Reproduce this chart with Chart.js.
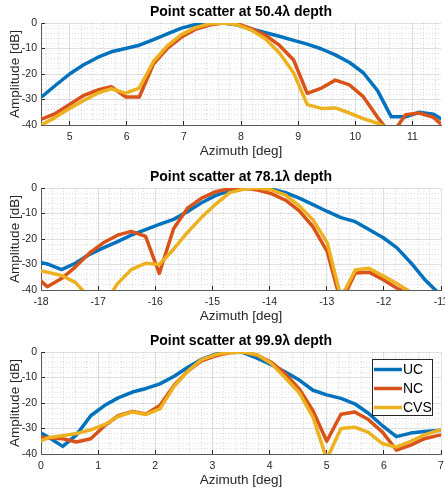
<!DOCTYPE html>
<html>
<head>
<meta charset="utf-8">
<script src="https://cdn.jsdelivr.net/npm/chart.js@4/dist/chart.umd.min.js"></script>
<style>
  html, body { margin: 0; padding: 0; background: #fff; overflow: hidden; }
  #wrap { position: relative; width: 445px; height: 490px; }
  canvas { position: absolute; left: 0; }
</style>
</head>
<body>
<div id="wrap">
  <canvas id="c1" width="445" height="163" style="top:0px"></canvas>
  <canvas id="c2" width="445" height="163" style="top:165px"></canvas>
  <canvas id="c3" width="445" height="163" style="top:329px"></canvas>
</div>
<script>
// --- datos ---
const seriesNames = ['UC', 'NC', 'CVS'];
const titles = ['Point scatter at 50.4λ depth', 'Point scatter at 78.1λ depth', 'Point scatter at 99.9λ depth'];
const xRanges = [[4.5, 11.5], [-18, -11], [0, 7]];
const yRange = [-40, 0];

// 50.4 lambda
const az1 = [4.51, 4.75, 5.0, 5.24, 5.49, 5.73, 5.98, 6.22, 6.47, 6.71, 6.96, 7.2, 7.45, 7.69, 7.94, 8.18, 8.43, 8.67, 8.92, 9.16, 9.41, 9.65, 9.9, 10.14, 10.39, 10.63, 10.88, 11.12, 11.37, 11.61];
const uc1 = [-29, -24.5, -20, -16.5, -13.5, -11.3, -10, -8.7, -6.5, -4.3, -2, -0.6, 0, 0, -0.8, -2.3, -3.8, -5.2, -6.8, -8.3, -10.2, -12.5, -15.5, -19.5, -26.5, -36.8, -36.8, -35, -35.8, -39];
const nc1 = [-37.7, -35.5, -32, -28.5, -26.3, -25, -29, -29, -16, -10, -5.5, -2.5, -0.8, 0, -0.3, -2.2, -4.8, -8.7, -14.5, -27.6, -25.5, -22.4, -24.3, -28.9, -37, -44, -36, -35.3, -37, -42];
const cvs1 = [-40, -37, -33.5, -30.5, -27.5, -25.8, -27.5, -25.5, -15, -9, -4.5, -1.8, -0.3, 0, -0.7, -2.8, -6.3, -11.7, -19.5, -32, -33.5, -33.3, -35.3, -37.5, -39.3, -42];

// 78.1 lambda
const az2 = [-18.13, -17.89, -17.64, -17.4, -17.15, -16.91, -16.66, -16.42, -16.17, -15.93, -15.68, -15.44, -15.19, -14.95, -14.7, -14.46, -14.21, -13.97, -13.72, -13.48, -13.24, -12.99, -12.75, -12.5, -12.26, -12.01, -11.77, -11.52, -11.28, -11.03, -10.79];
const uc2 = [-28.5, -29.8, -32, -29.5, -26, -23.5, -21, -18.5, -16.3, -14.3, -12.3, -9.3, -5.8, -3, -1, -0.2, 0, -0.4, -1.8, -4, -6.5, -9.2, -11.6, -13.2, -16.3, -19.5, -23.5, -29.5, -36, -41.5, -48];
const nc2 = [-34, -38.7, -35.5, -31, -25.5, -21.5, -18.5, -17, -19, -33.5, -16, -8, -4, -1.5, -0.3, 0, -0.8, -2.2, -4.8, -9, -15.2, -25, -45, -33.3, -33, -36, -39.3, -42];
const cvs2 = [-32, -33, -34.3, -37, -43, -46, -37.5, -32, -29.5, -30, -24, -17.5, -11.5, -6.5, -1.8, -0.5, 0, -0.7, -2.8, -7, -12.5, -21.5, -43, -32.2, -31.5, -34.5, -37.5, -41];

// 99.9 lambda
const az3 = [-0.1, 0.14, 0.38, 0.62, 0.87, 1.11, 1.35, 1.6, 1.84, 2.08, 2.33, 2.57, 2.81, 3.06, 3.3, 3.54, 3.79, 4.03, 4.27, 4.52, 4.76, 5.0, 5.25, 5.49, 5.73, 5.98, 6.22, 6.47, 6.71, 6.95, 7.2];
const uc3 = [-30.5, -33.5, -37, -32.5, -25, -21, -18, -15.7, -14.3, -12.5, -9.5, -6, -2.8, -0.8, 0, -0.2, -2.5, -5, -7.8, -11, -15, -16.8, -18.2, -20.3, -24, -29, -33.2, -31.8, -31.2, -30.8, -30.5];
const nc3 = [-33.3, -33.7, -34, -35.3, -34, -29, -25, -23.3, -24.3, -21, -13, -7.5, -3.5, -1.5, -0.3, 0, -1.3, -4, -8.5, -14.5, -23, -35, -24.4, -23.5, -26.5, -31.5, -38.5, -36.5, -34, -32.7, -32];
const cvs3 = [-35.8, -33.5, -32.8, -32, -30.5, -28.5, -25.3, -23.5, -24.5, -22.3, -13.5, -7.5, -3, -1, -0.2, 0, -1.2, -4.5, -10, -16, -25.5, -42, -30, -29.5, -31.5, -36, -37.3, -35, -32.5, -30.7, -30];

// colores por defecto de MATLAB
const colors = { UC: '#0072BD', NC: '#D95319', CVS: '#EDB120' };
const FONT = "'Liberation Sans', Arial, Helvetica, sans-serif";
const AXIS = '#262626';

Chart.defaults.font.family = FONT;

function isMajorX(v) { return Math.abs(v - Math.round(v)) < 1e-6; }
function isMajorY(v) { return Math.abs(v / 10 - Math.round(v / 10)) < 1e-6; }

// leyenda dentro del área del gráfico (como la de MATLAB)
const insideLegend = {
    id: 'insideLegend',
    afterDatasetsDraw(chart, args, opts) {
        if (!opts.show) return;
        const ctx = chart.ctx;
        const area = chart.chartArea;
        const w = 61, h = 57, rowH = 19;
        const x0 = area.right - 8 - w;
        const y0 = area.top + 7;
        ctx.save();
        ctx.fillStyle = '#fff';
        ctx.fillRect(x0, y0, w, h);
        ctx.strokeStyle = AXIS;
        ctx.lineWidth = 1;
        ctx.strokeRect(x0 + 0.5, y0 + 0.5, w - 1, h - 1);
        ctx.font = '14px ' + FONT;
        ctx.textBaseline = 'middle';
        ctx.textAlign = 'left';
        seriesNames.forEach(function(name, i) {
            const cy = y0 + 10.5 + i * rowH;
            ctx.strokeStyle = colors[name];
            ctx.lineWidth = 3.5;
            ctx.beginPath();
            ctx.moveTo(x0 + 2, cy);
            ctx.lineTo(x0 + 30, cy);
            ctx.stroke();
            ctx.fillStyle = '#000';
            ctx.fillText(name, x0 + 31, cy + 0.5);
        });
        ctx.restore();
    }
};

function makeChart(id, title, az, series, range, showLegend) {
    const datasets = series.map(function(vals, i) {
        const name = seriesNames[i];
        return {
            label: name,
            data: vals.map(function(y, k) { return { x: az[k], y: y }; }),
            borderColor: colors[name],
            backgroundColor: colors[name],
            borderWidth: 3.5,
            borderJoinStyle: 'round',
            pointRadius: 0,
            showLine: true,
            tension: 0,
            clip: 0,
            order: 3 - i
        };
    });

    new Chart(document.getElementById(id).getContext('2d'), {
        type: 'scatter',
        data: { datasets: datasets },
        plugins: [insideLegend],
        options: {
            responsive: false,
            animation: false,
            layout: { padding: { left: 0, right: 4, top: 0, bottom: 0 } },
            plugins: {
                legend: { display: false },
                tooltip: { enabled: false },
                insideLegend: { show: showLegend },
                title: {
                    display: true,
                    fullSize: false,
                    text: title,
                    color: '#000',
                    font: { size: 14, weight: 'bold' },
                    padding: { top: 3.7, bottom: 2.5 }
                }
            },
            scales: {
                x: {
                    type: 'linear',
                    min: range[0],
                    max: range[1],
                    afterBuildTicks: function(scale) {
                        const ticks = [];
                        const a = Math.ceil(range[0] * 5 - 1e-9);
                        const b = Math.floor(range[1] * 5 + 1e-9);
                        for (let k = a; k <= b; k++) ticks.push({ value: k / 5 });
                        scale.ticks = ticks;
                    },
                    afterFit: function(scale) {
                        scale.height = 38;
                        scale.paddingLeft = 0;
                        scale.paddingRight = 0;
                    },
                    grid: {
                        color: function(c) { return c.tick && isMajorX(c.tick.value) ? 'rgba(0,0,0,0.12)' : 'rgba(0,0,0,0.13)'; },
                        lineWidth: 1,
                        tickLength: -4,
                        tickWidth: 1,
                        tickColor: function(c) { return c.tick && isMajorX(c.tick.value) ? AXIS : 'rgba(0,0,0,0)'; }
                    },
                    border: {
                        display: true,
                        color: '#5a5a5a',
                        width: 1,
                        dash: function(c) { return c.tick && !isMajorX(c.tick.value) ? [1, 2] : []; }
                    },
                    ticks: {
                        autoSkip: false,
                        maxRotation: 0,
                        padding: 10,
                        color: AXIS,
                        font: { size: 10.5 },
                        callback: function(v) { return isMajorX(v) ? String(Math.round(v)) : ''; }
                    },
                    title: {
                        display: true,
                        text: 'Azimuth [deg]',
                        color: AXIS,
                        font: { size: 13.5 },
                        padding: { top: 0, bottom: 3.2 }
                    }
                },
                y: {
                    type: 'linear',
                    min: yRange[0],
                    max: yRange[1],
                    afterFit: function(scale) {
                        scale.width = 41;
                        scale.paddingTop = 0;
                        scale.paddingBottom = 0;
                    },
                    grid: {
                        color: function(c) { return c.tick && isMajorY(c.tick.value) ? 'rgba(0,0,0,0.12)' : 'rgba(0,0,0,0.13)'; },
                        lineWidth: 1,
                        tickLength: -4,
                        tickWidth: 1,
                        tickColor: function(c) { return c.tick && isMajorY(c.tick.value) ? AXIS : 'rgba(0,0,0,0)'; }
                    },
                    border: {
                        display: true,
                        color: '#5a5a5a',
                        width: 1,
                        dash: function(c) { return c.tick && !isMajorY(c.tick.value) ? [1, 2] : []; }
                    },
                    ticks: {
                        stepSize: 2,
                        autoSkip: false,
                        padding: 8,
                        color: AXIS,
                        font: { size: 10.5 },
                        callback: function(v) { return isMajorY(v) ? String(v) : ''; }
                    },
                    title: {
                        display: true,
                        text: 'Amplitude [dB]',
                        color: AXIS,
                        font: { size: 13.5 },
                        padding: { top: 7, bottom: 0 }
                    }
                }
            }
        }
    });
}

makeChart('c1', titles[0], az1, [uc1, nc1, cvs1], xRanges[0], false);
makeChart('c2', titles[1], az2, [uc2, nc2, cvs2], xRanges[1], false);
makeChart('c3', titles[2], az3, [uc3, nc3, cvs3], xRanges[2], true);
</script>
</body>
</html>
